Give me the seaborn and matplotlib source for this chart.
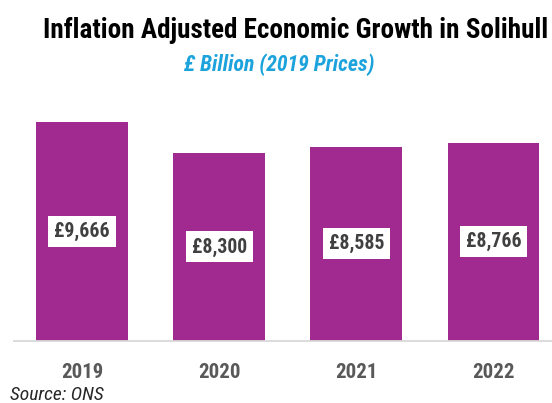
import matplotlib
matplotlib.use("Agg")
import matplotlib.pyplot as plt
import seaborn as sns
import pandas as pd

# Solihull GVA, £ billion at 2019 prices
years = ["2019", "2020", "2021", "2022"]
values = [9666, 8300, 8585, 8766]
value_labels = ["£9,666", "£8,300", "£8,585", "£8,766"]

title = "Inflation Adjusted Economic Growth in Solihull"
subtitle = "£ Billion (2019 Prices)"
source = "Source: ONS"

BAR = "#A02A8F"
BLUE = "#1CA3DC"
GREY = "#595959"

sns.set_theme(style="white")
COND = ["Roboto Condensed", "Liberation Sans Narrow", "DejaVu Sans"]
plt.rcParams["font.family"] = COND

df = pd.DataFrame({"year": years, "value": values})

fig = plt.figure(figsize=(5.52, 4.03), dpi=100)
W, H = 552, 403
left, right = 13.65, 552
bottom_px, top_px = 340.7, 114.75
ax = fig.add_axes([left / W, (H - bottom_px) / H, (right - left) / W, (bottom_px - top_px) / H])

sns.barplot(data=df, x="year", y="value", color=BAR, saturation=1, width=0.67,
            linewidth=0, ax=ax)

ax.set_xlim(-0.5, 3.427)
ax.set_ylim(0, 10000)
ax.set_xlabel("")
ax.set_ylabel("")
ax.set_yticks([])
for s in ["left", "right", "top"]:
    ax.spines[s].set_visible(False)
ax.spines["bottom"].set_color("#D9D9D9")
ax.spines["bottom"].set_linewidth(1.3)
ax.tick_params(axis="x", length=0, pad=16, labelsize=15, labelcolor=GREY)
for lbl in ax.get_xticklabels():
    lbl.set_fontweight("bold")

for i, (v, txt) in enumerate(zip(values, value_labels)):
    ax.text(i, v / 2, txt, ha="center", va="center", fontsize=14.2,
            fontweight="bold", color="#404040",
            bbox=dict(boxstyle="square,pad=0.3", fc="white", ec="none"))

fig.text(548 / W, 1 - 30 / H, title, ha="right", va="center", fontsize=19.5,
         fontweight="bold", color="black")
fig.text(279 / W, 1 - 65 / H, subtitle, ha="center", va="center", fontsize=15.7,
         fontweight="bold", fontstyle="italic", color=BLUE)
fig.text(10 / W, 3 / H, source, ha="left", va="baseline", fontsize=14,
         fontstyle="italic", color="#262626")

fig.savefig("out.png", dpi=100)
